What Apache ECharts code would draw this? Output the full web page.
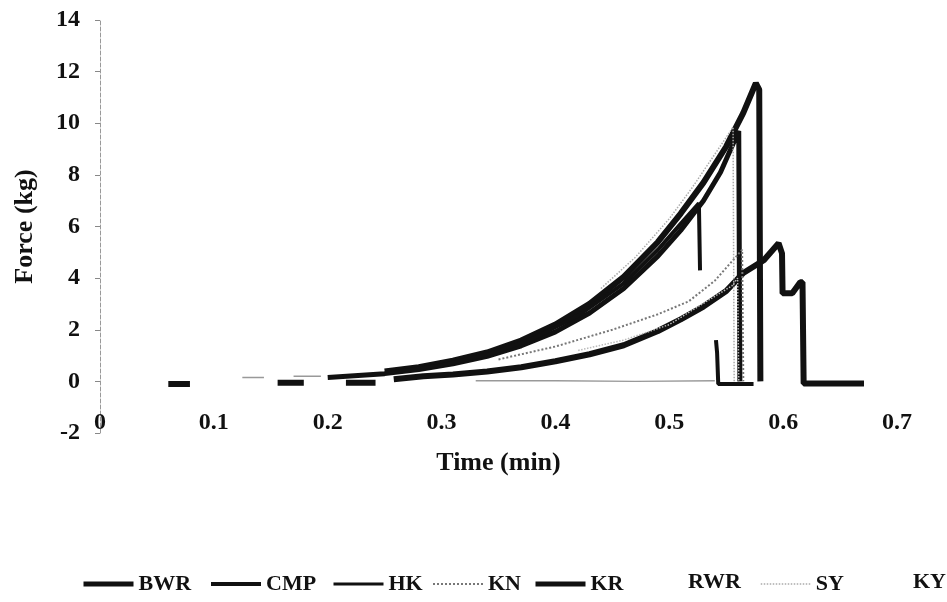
<!DOCTYPE html>
<html>
<head>
<meta charset="utf-8">
<title>Force vs Time</title>
<script src="https://cdn.jsdelivr.net/npm/echarts@6/dist/echarts.min.js"></script>
<style>
  html, body { margin: 0; padding: 0; background: #fff; }
  #main { width: 947px; height: 602px; }
</style>
</head>
<body>
<div id="main"></div>
<script>
// axis ticks
var xTicks = [0, 0.1, 0.2, 0.3, 0.4, 0.5, 0.6, 0.7];
var yTicks = [-2, 0, 2, 4, 6, 8, 10, 12, 14];

// series data (time in min, force in kg); null = gap in the trace
var tBWR = [0.060, 0.079, 0.080, 0.25, 0.28, 0.31, 0.34, 0.37, 0.40, 0.43, 0.46, 0.49, 0.51, 0.53, 0.55, 0.565, 0.576, 0.579, 0.580];
var fBWR = [-0.1, -0.1, null, 0.38, 0.55, 0.80, 1.12, 1.58, 2.2, 3.0, 4.05, 5.4, 6.5, 7.7, 9.1, 10.4, 11.55, 11.3, 0];

var tCMP = [0.20, 0.25, 0.28, 0.31, 0.34, 0.37, 0.40, 0.43, 0.46, 0.49, 0.51, 0.53, 0.545, 0.561, 0.562];
var fCMP = [0.15, 0.30, 0.46, 0.68, 0.97, 1.38, 1.92, 2.65, 3.6, 4.85, 5.85, 7.0, 8.1, 9.7, 0];

var tHK = [0.26, 0.30, 0.34, 0.38, 0.42, 0.46, 0.49, 0.51, 0.526, 0.527, 0.530, 0.541, 0.542, 0.543, 0.574];
var fHK = [0.36, 0.62, 1.04, 1.65, 2.55, 3.8, 5.1, 6.1, 6.9, 4.3, null, 1.6, 1.1, -0.1, -0.1];

var tKN = [0.35, 0.40, 0.45, 0.49, 0.517, 0.54, 0.564, 0.565];
var fKN = [0.85, 1.35, 2.0, 2.6, 3.1, 3.9, 5.1, 0];

var tKR = [0.156, 0.179, 0.19, 0.216, 0.242, 0.25, 0.258, 0.284, 0.31, 0.34, 0.37, 0.40, 0.43, 0.46, 0.49, 0.51, 0.53, 0.55, 0.565, 0.583, 0.596, 0.599, 0.5995, 0.608, 0.615, 0.617, 0.618, 0.671];
var fKR = [-0.05, -0.05, null, -0.05, -0.05, null, 0.08, 0.2, 0.27, 0.38, 0.55, 0.78, 1.05, 1.4, 1.95, 2.4, 2.9, 3.5, 4.2, 4.69, 5.35, 4.96, 3.41, 3.41, 3.84, 3.84, -0.08, -0.08];

var tRWR = [0.125, 0.144, 0.15, 0.17, 0.194, 0.20, 0.33, 0.40, 0.47, 0.54];
var fRWR = [0.15, 0.15, null, 0.2, 0.2, null, 0.02, 0.02, 0.0, 0.02];

var tSY = [0.44, 0.47, 0.50, 0.52, 0.54, 0.556, 0.557];
var fSY = [3.6, 4.8, 6.3, 7.5, 8.8, 9.85, 0];

var tKY = [0.42, 0.46, 0.50, 0.529, 0.555, 0.560, 0.561];
var fKY = [1.2, 1.6, 2.2, 3.0, 3.7, 4.0, 0];

function pairs(t, f) {
  return t.map(function (x, i) { return [x, f[i] === null ? '-' : f[i]]; });
}

var FONT = '"Liberation Serif", "Times New Roman", serif';

var seriesDefs = [
  { name: 'BWR', data: pairs(tBWR, fBWR), color: '#111', width: 6, type: 'solid' },
  { name: 'CMP', data: pairs(tCMP, fCMP), color: '#111', width: 5, type: 'solid' },
  { name: 'HK',  data: pairs(tHK, fHK),   color: '#111', width: 4, type: 'solid' },
  { name: 'KN',  data: pairs(tKN, fKN),   color: '#777', width: 2, type: 'dotted' },
  { name: 'KR',  data: pairs(tKR, fKR),   color: '#111', width: 6, type: 'solid' },
  { name: 'RWR', data: pairs(tRWR, fRWR), color: '#999', width: 1.5, type: 'solid' },
  { name: 'SY',  data: pairs(tSY, fSY),   color: '#aaa', width: 1.5, type: 'dotted' },
  { name: 'KY',  data: pairs(tKY, fKY),   color: '#bbb', width: 1.5, type: 'dotted' }
];

// legend placement, one box per entry
var legendLeft = { BWR: 76, CMP: 204, HK: 327, KN: 427, KR: 528, RWR: 628, SY: 755, KY: 853 };
var legendLine = { BWR: 5, CMP: 4, HK: 3, KN: 2, KR: 5, RWR: 1, SY: 1.5, KY: 1 };
var noIcon = { RWR: true, KY: true };

var myChart = echarts.init(document.getElementById('main'));
myChart.setOption({
  animation: false,
  backgroundColor: '#fff',
  grid: { left: 100, right: 50, top: 20, bottom: 169 },
  legend: seriesDefs.map(function (s) {
    var item = { name: s.name };
    if (noIcon[s.name]) item.icon = 'none';
    return {
      left: legendLeft[s.name],
      top: noIcon[s.name] ? 565 : 568,
      itemWidth: 50,
      itemHeight: 24,
      data: [item],
      itemStyle: { opacity: 0 },
      lineStyle: { width: legendLine[s.name] },
      textStyle: { fontFamily: FONT, fontWeight: 'bold', fontSize: 22, color: '#111' }
    };
  }),
  xAxis: {
    type: 'value',
    min: 0,
    max: 0.7,
    interval: 0.1,
    name: 'Time (min)',
    nameLocation: 'middle',
    nameGap: 17,
    nameTextStyle: { fontFamily: FONT, fontWeight: 'bold', fontSize: 26, color: '#111' },
    axisLine: { show: false },
    axisTick: { show: false },
    splitLine: { show: false },
    axisLabel: {
      margin: -22,
      fontFamily: FONT, fontWeight: 'bold', fontSize: 24, color: '#111',
      formatter: function (v) { return v === 0 ? '0' : v.toFixed(1); }
    }
  },
  yAxis: {
    type: 'value',
    min: yTicks[0],
    max: yTicks[yTicks.length - 1],
    interval: 2,
    name: 'Force (kg)',
    nameLocation: 'middle',
    nameGap: 62,
    nameTextStyle: { fontFamily: FONT, fontWeight: 'bold', fontSize: 26, color: '#111' },
    axisLine: { show: true, lineStyle: { color: '#999', type: 'dashed', width: 1 } },
    axisTick: { show: true, length: 5, lineStyle: { color: '#888' } },
    splitLine: { show: false },
    axisLabel: { margin: 20, fontFamily: FONT, fontWeight: 'bold', fontSize: 24, color: '#111' }
  },
  series: seriesDefs.map(function (s) {
    return {
      name: s.name,
      type: 'line',
      data: s.data,
      showSymbol: false,
      symbol: 'none',
      connectNulls: false,
      color: s.color,
      lineStyle: { color: s.color, width: s.width, type: s.type },
      z: s.type === 'dotted' ? 3 : 2
    };
  })
});
window.addEventListener('resize', function () { myChart.resize(); });
</script>
</body>
</html>
